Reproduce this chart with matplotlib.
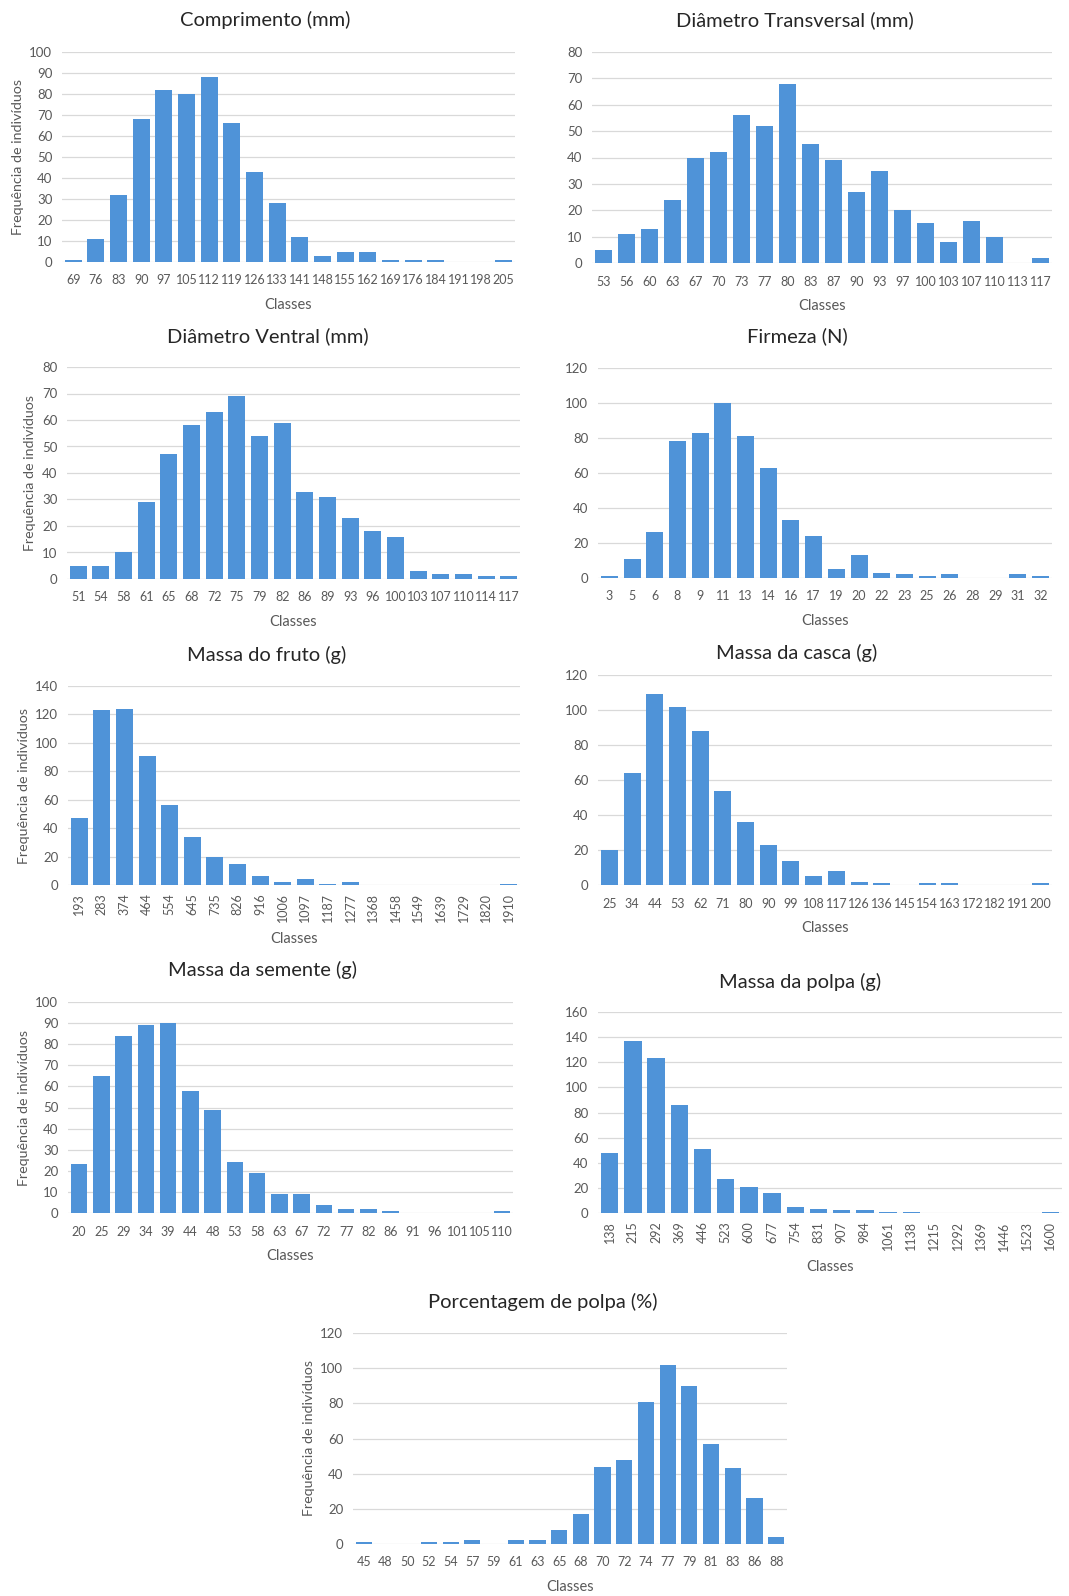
import matplotlib
matplotlib.use("Agg")
import matplotlib.pyplot as plt

plt.rcParams['font.family'] = ['Lato', 'DejaVu Sans']

# class labels and frequencies for each trait
comp_classes = ['69', '76', '83', '90', '97', '105', '112', '119', '126', '133',
                '141', '148', '155', '162', '169', '176', '184', '191', '198', '205']
comp_freq = [1, 11, 32, 68, 82, 80, 88, 66, 43, 28, 12, 3, 5, 5, 1, 1, 1, 0, 0, 1]

dtrans_classes = ['53', '56', '60', '63', '67', '70', '73', '77', '80', '83',
                  '87', '90', '93', '97', '100', '103', '107', '110', '113', '117']
dtrans_freq = [5, 11, 13, 24, 40, 42, 56, 52, 68, 45, 39, 27, 35, 20, 15, 8, 16, 10, 0, 2]

dvent_classes = ['51', '54', '58', '61', '65', '68', '72', '75', '79', '82',
                 '86', '89', '93', '96', '100', '103', '107', '110', '114', '117']
dvent_freq = [5, 5, 10, 29, 47, 58, 63, 69, 54, 59, 33, 31, 23, 18, 16, 3, 2, 2, 1, 1]

firm_classes = ['3', '5', '6', '8', '9', '11', '13', '14', '16', '17',
                '19', '20', '22', '23', '25', '26', '28', '29', '31', '32']
firm_freq = [1, 11, 26, 78, 83, 100, 81, 63, 33, 24, 5, 13, 3, 2, 1, 2, 0, 0, 2, 1]

fruto_classes = ['193', '283', '374', '464', '554', '645', '735', '826', '916', '1006',
                 '1097', '1187', '1277', '1368', '1458', '1549', '1639', '1729', '1820', '1910']
fruto_freq = [47, 123, 124, 91, 56, 34, 20, 15, 6, 2, 4, 1, 2, 0, 0, 0, 0, 0, 0, 1]

casca_classes = ['25', '34', '44', '53', '62', '71', '80', '90', '99', '108',
                 '117', '126', '136', '145', '154', '163', '172', '182', '191', '200']
casca_freq = [20, 64, 109, 102, 88, 54, 36, 23, 14, 5, 8, 2, 1, 0, 1, 1, 0, 0, 0, 1]

semente_classes = ['20', '25', '29', '34', '39', '44', '48', '53', '58', '63',
                   '67', '72', '77', '82', '86', '91', '96', '101', '105', '110']
semente_freq = [23, 65, 84, 89, 90, 58, 49, 24, 19, 9, 9, 4, 2, 2, 1, 0, 0, 0, 0, 1]

polpa_classes = ['138', '215', '292', '369', '446', '523', '600', '677', '754', '831',
                 '907', '984', '1061', '1138', '1215', '1292', '1369', '1446', '1523', '1600']
polpa_freq = [48, 137, 123, 86, 51, 27, 21, 16, 5, 3, 2, 2, 1, 1, 0, 0, 0, 0, 0, 1]

pct_classes = ['45', '48', '50', '52', '54', '57', '59', '61', '63', '65',
               '68', '70', '72', '74', '77', '79', '81', '83', '86', '88']
pct_freq = [1, 0, 0, 1, 1, 2, 0, 2, 2, 8, 17, 44, 48, 81, 102, 90, 57, 43, 26, 4]

W, H = 1069, 1596
fig = plt.figure(figsize=(W / 100, H / 100), dpi=100)

BAR = '#4F93D8'
GRID = '#d9d9d9'
TXT = '#595959'


def panel(box, title_xy, title, classes, freq, ymax, step, ylabel=True, rot=0):
    left, top, right, bottom = box
    ax = fig.add_axes([left / W, 1 - bottom / H, (right - left) / W, (bottom - top) / H])
    x = range(len(classes))
    ax.bar(x, freq, width=0.75, color=BAR, zorder=3)
    ax.set_xlim(-0.5, len(classes) - 0.5)
    ax.set_ylim(0, ymax)
    ax.set_yticks(range(0, ymax + 1, step))
    ax.set_xticks(list(x))
    ax.set_xticklabels(classes, rotation=rot)
    ax.grid(axis='y', color=GRID, linewidth=0.9, zorder=0)
    for s in ax.spines.values():
        s.set_visible(False)
    ax.tick_params(length=0, colors=TXT)
    ax.tick_params(axis='y', pad=7, labelsize=9.5)
    ax.tick_params(axis='x', pad=6 if rot else 9, labelsize=9)
    ax.set_xlabel('Classes', fontsize=10.5, color=TXT, labelpad=7 if rot else 8)
    if ylabel:
        ax.set_ylabel('Frequência de indivíduos', fontsize=10.3, color=TXT, labelpad=4)
    fig.text(title_xy[0] / W, 1 - title_xy[1] / H, title, fontsize=14.5,
             color='#262626', ha='center', va='center')
    return ax


panel((62, 52, 515, 262), (265, 20), 'Comprimento (mm)', comp_classes, comp_freq, 100, 10)
panel((592, 52, 1052, 263), (795, 20), 'Diâmetro Transversal (mm)', dtrans_classes, dtrans_freq,
      80, 10, ylabel=False)
panel((67, 367, 520, 579), (268, 336), 'Diâmetro Ventral (mm)', dvent_classes, dvent_freq, 80, 10)
panel((598, 368, 1052, 578), (797, 336), 'Firmeza (N)', firm_classes, firm_freq, 120, 20,
      ylabel=False)
panel((68, 686, 520, 885), (267, 655), 'Massa do fruto (g)', fruto_classes, fruto_freq, 140, 20,
      rot=90)
panel((598, 675, 1052, 885), (797, 653), 'Massa da casca (g)', casca_classes, casca_freq, 120, 20,
      ylabel=False)
panel((68, 1002, 513, 1213), (262, 970), 'Massa da semente (g)', semente_classes, semente_freq,
      100, 10)
panel((598, 1012, 1062, 1213), (800, 982), 'Massa da polpa (g)', polpa_classes, polpa_freq,
      160, 20, ylabel=False, rot=90)
panel((353, 1333, 787, 1544), (543, 1302), 'Porcentagem de polpa (%)', pct_classes, pct_freq,
      120, 20)

fig.savefig('out.png', dpi=100, facecolor='white')
